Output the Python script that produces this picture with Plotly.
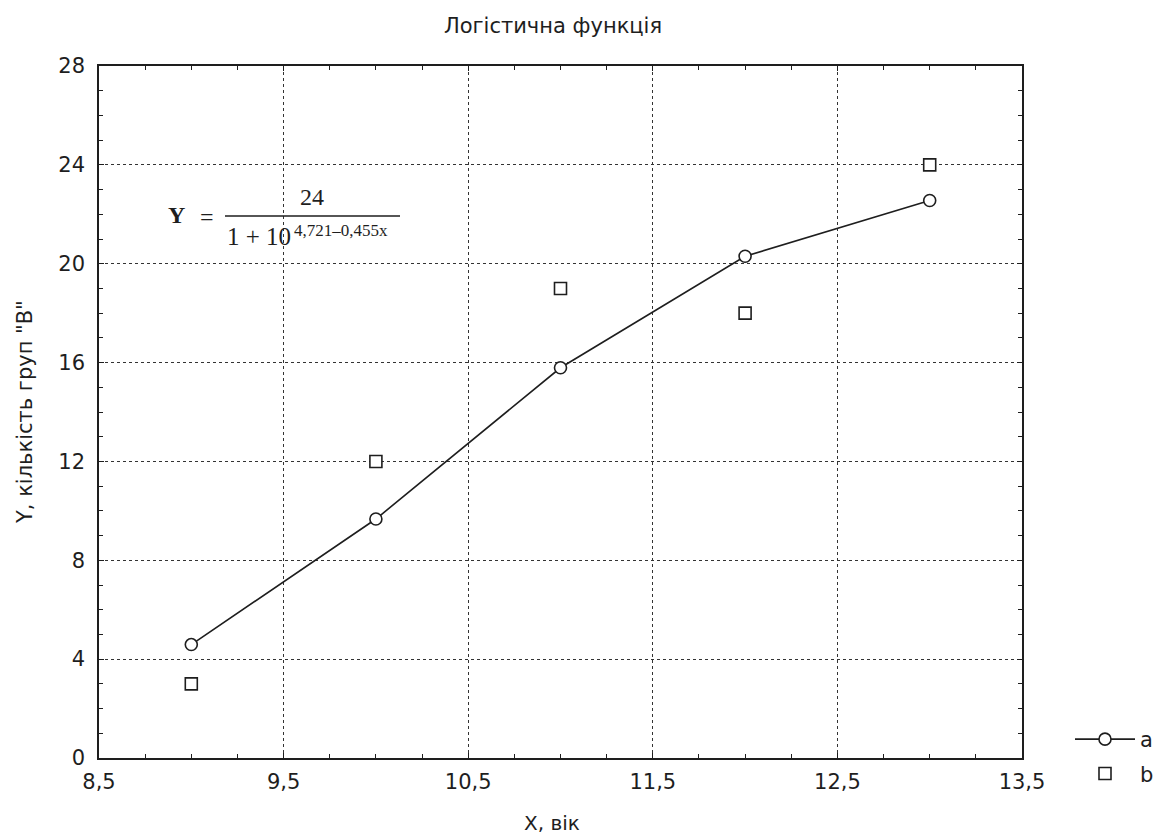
import plotly.graph_objects as go

x_vals = [9, 10, 11, 12, 13]
a_vals = [4.59, 9.67, 15.79, 20.30, 22.56]
b_vals = [3, 12, 19, 18, 24]
x_ticks = [8.5, 9.5, 10.5, 11.5, 12.5, 13.5]
y_ticks = [0, 4, 8, 12, 16, 20, 24, 28]

W, H = 1166, 837
# plot area in page pixels
L, R, T, B = 99, 1022, 66, 758

def px(x):
    return (x - L) / (R - L)

def py(y):
    return (B - y) / (B - T)

SANS = "DejaVu Sans, Arial, sans-serif"
SERIF = "Liberation Serif, Times New Roman, serif"
INK = "#1e1e1e"

fig = go.Figure()
fig.add_trace(go.Scatter(
    x=x_vals, y=a_vals, name="a", mode="lines+markers", legendgroup="a",
    line=dict(color=INK, width=1.6),
    marker=dict(symbol="circle", size=12, color="white", line=dict(color=INK, width=1.6)),
))
fig.add_trace(go.Scatter(
    x=x_vals, y=b_vals, name="b", mode="markers", legendgroup="b",
    marker=dict(symbol="square", size=12, color="white", line=dict(color=INK, width=1.6)),
))

axis_common = dict(
    showline=True, linecolor=INK, linewidth=1.6, mirror="ticks",
    showgrid=True, gridcolor="#333", griddash="dot", gridwidth=1,
    ticks="inside", ticklen=5, tickcolor=INK,
    tickfont=dict(family=SANS, size=21, color=INK),
    zeroline=False, automargin=False,
)

fig.update_xaxes(
    range=[8.5, 13.5], tickvals=x_ticks, ticktext=[f"{v:.1f}".replace(".", ",") for v in x_ticks],
    minor=dict(dtick=0.25, ticks="inside", ticklen=4, tickcolor=INK, showgrid=False),
    ticklabelstandoff=4,
    **axis_common,
)
fig.update_yaxes(
    range=[0, 28], tickvals=y_ticks,
    minor=dict(dtick=1, ticks="inside", ticklen=4, tickcolor=INK, showgrid=False),
    ticklabelstandoff=8,
    **axis_common,
)

ann = [
    dict(text="<b>Y</b>", x=px(176), y=py(215), font=dict(family=SERIF, size=24, color=INK)),
    dict(text="=", x=px(207), y=py(217), font=dict(family=SERIF, size=24, color=INK)),
    dict(text="24", x=px(312), y=py(197), font=dict(family=SERIF, size=24, color=INK)),
    dict(text="1 + 10", x=px(225), y=py(236), xanchor="left", font=dict(family=SERIF, size=25, color=INK)),
    dict(text="4,721–0,455x", x=px(292), y=py(230), xanchor="left",
         font=dict(family=SERIF, size=17, color=INK)),
    # axis titles
    dict(text="X, вік", x=px(552), y=py(823), font=dict(family=SANS, size=20, color=INK)),
    dict(text='Y, кількість груп "B"', x=px(25), y=py(412), textangle=-90,
         font=dict(family=SANS, size=21, color=INK)),
]
for a in ann:
    a.setdefault("xanchor", "center")
    fig.add_annotation(xref="paper", yref="paper", yanchor="middle", showarrow=False, **a)

fig.add_shape(type="line", xref="paper", yref="paper",
              x0=px(225), x1=px(400), y0=py(216), y1=py(216),
              line=dict(color=INK, width=1.5))

fig.update_layout(
    width=W, height=H,
    margin=dict(l=L, r=W - R, t=T, b=H - B, autoexpand=False),
    paper_bgcolor="white", plot_bgcolor="white",
    title=dict(text="Логістична функція", x=553 / W, xanchor="center",
               y=1 - 26 / H, yanchor="middle",
               font=dict(family=SANS, size=21, color=INK)),
    legend=dict(x=px(1070), y=py(719), xanchor="left", yanchor="top",
                font=dict(family=SANS, size=21, color=INK),
                itemwidth=60,
                bgcolor="rgba(0,0,0,0)", tracegroupgap=4),
    showlegend=True,
)

fig.write_html(
    "out.html",
    config={"displayModeBar": False},
    post_script=(
        "document.documentElement.style.margin='0px';"
        "document.documentElement.style.overflow='hidden';"
        "document.body.style.margin='0px';"
        "document.body.style.overflow='hidden';"
    ),
)
